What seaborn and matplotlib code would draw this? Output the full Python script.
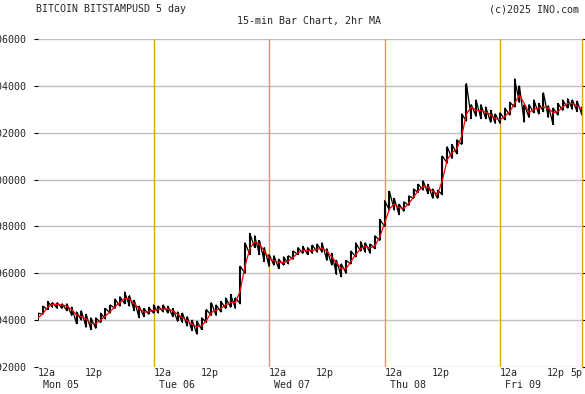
import numpy as np
import pandas as pd
import matplotlib
matplotlib.use('Agg')
import matplotlib.pyplot as plt
import matplotlib.transforms as mtransforms
import seaborn as sns

# hourly bars, hour 0 = Mon 05 12a, hour 113 = Fri 09 5p
close = [94100, 94450, 94650, 94700, 94650, 94650, 94550, 94350, 94100, 94200,
         93900, 93800, 93900, 94100, 94250, 94500, 94650, 94850, 95000, 94800,
         94600, 94400, 94300, 94400, 94450, 94450, 94500, 94450, 94350, 94150,
         94050, 93900, 93750, 93700, 93800, 94200, 94450, 94400, 94600, 94700,
         94800, 94700, 95800, 96800, 97300, 97400, 97100, 96800, 96500, 96550,
         96400, 96500, 96550, 96800, 96950, 97000, 96950, 97000, 97050, 97100,
         96800, 96600, 96300, 96100, 96300, 96700, 96900, 97200, 97100, 97050,
         97300, 97800, 98500, 99000, 98900, 98700, 98850, 99100, 99400, 99650,
         99750, 99600, 99400, 99350, 100600, 101100, 101200, 101400, 102300, 103300,
         102900, 103000, 102900, 102850, 102700, 102500, 102600, 102800, 103000, 103500,
         103700, 102800, 102900, 103100, 103000, 103200, 102900, 102800, 103000, 103200,
         103300, 103200, 103100, 102900]
low = [94000, 94250, 94450, 94550, 94500, 94500, 94400, 94200, 93850, 94000,
       93700, 93600, 93650, 93900, 94050, 94300, 94500, 94600, 94700, 94600,
       94400, 94100, 94150, 94250, 94300, 94300, 94350, 94300, 94150, 93950,
       93900, 93750, 93550, 93400, 93600, 93900, 94200, 94200, 94350, 94500,
       94550, 94500, 94700, 96000, 96800, 97100, 96800, 96500, 96300, 96350,
       96200, 96350, 96400, 96600, 96800, 96850, 96800, 96850, 96900, 96900,
       96550, 96350, 95950, 95850, 96000, 96400, 96700, 96950, 96900, 96850,
       97050, 97400, 98000, 98700, 98700, 98500, 98650, 98900, 99200, 99450,
       99550, 99400, 99200, 99200, 99350, 100700, 100900, 101100, 101500, 102500,
       102600, 102700, 102600, 102600, 102450, 102400, 102400, 102550, 102750, 103100,
       103300, 102450, 102650, 102850, 102800, 102900, 102650, 102350, 102750, 102950,
       103050, 103000, 102900, 102750]
high = [94300, 94600, 94800, 94750, 94750, 94700, 94700, 94550, 94350, 94400,
        94250, 94100, 94100, 94300, 94500, 94650, 94900, 95000, 95200, 95050,
        94850, 94600, 94500, 94550, 94650, 94600, 94650, 94600, 94500, 94350,
        94300, 94150, 94000, 93950, 94100, 94450, 94750, 94650, 94800, 94950,
        95100, 94950, 96300, 97300, 97700, 97600, 97400, 97100, 96800, 96750,
        96600, 96700, 96750, 96950, 97100, 97150, 97100, 97200, 97250, 97300,
        97050, 96850, 96550, 96400, 96550, 96950, 97300, 97350, 97300, 97250,
        97600, 98300, 99100, 99500, 99200, 98950, 99050, 99300, 99600, 99800,
        99950, 99800, 99600, 99550, 101000, 101400, 101500, 101700, 102800, 104100,
        103200, 103400, 103200, 103100, 102950, 102800, 102850, 103050, 103300, 104300,
        104000, 103200, 103200, 103400, 103250, 103700, 103150, 103050, 103250, 103400,
        103450, 103400, 103350, 103100]

day_labels = ['Mon 05', 'Tue 06', 'Wed 07', 'Thu 08', 'Fri 09']
y_ticks = [92000, 94000, 96000, 98000, 100000, 102000, 104000, 106000]

df = pd.DataFrame({'hour': np.arange(len(close)), 'close': close,
                   'low': low, 'high': high})
df['ma'] = df['close'].rolling(2, min_periods=1).mean()

# sawtooth path through the bars: low -> high, then on to the next low
zx = np.repeat(df['hour'].to_numpy(), 2)
zy = np.column_stack([df['low'], df['high']]).ravel()

sns.set_style('white')
plt.rcParams['font.family'] = ['DejaVu Sans Mono']
fs = 7.2

fig = plt.figure(figsize=(5.85, 3.94), dpi=100)
ax = fig.add_axes([38 / 585, 1 - 367 / 394, (582 - 38) / 585, (367 - 39) / 394])

# grid
for v in y_ticks:
    ax.axhline(v, color='#c0c0c0', lw=1, zorder=0)
for d in range(1, 5):
    ax.axvline(d * 24, color='#e6a117', lw=1, zorder=0)

# bars
ax.plot(zx, zy, color='black', lw=0.9, zorder=2)
ax.vlines(df['hour'], df['low'], df['high'], color='black', lw=1.5, zorder=2)
sns.lineplot(data=df, x='hour', y='ma', color='#ff0000', lw=0.9, ax=ax, zorder=3)

ax.set_xlim(0, 113)
ax.set_ylim(92000, 106000)
for s in ['top', 'bottom', 'left']:
    ax.spines[s].set_visible(False)
ax.spines['right'].set_color('#e6a117')
ax.spines['right'].set_linewidth(1)

ax.set_yticks(y_ticks)
ax.set_yticklabels([str(v) + ' ' for v in y_ticks], fontsize=fs)
ax.tick_params(axis='y', which='both', left=True, right=True, direction='out',
               length=3, width=0.8, color='black', pad=1)
ax.set_xticks([])
ax.set_xlabel('')
ax.set_ylabel('')

# x labels
tr = ax.get_xaxis_transform()
for i, lab in enumerate(day_labels):
    h0 = i * 24
    ax.text(h0, -0.018, '12a', transform=tr, fontsize=fs, ha='left', va='center')
    t = mtransforms.offset_copy(tr, fig=fig, x=5, y=0, units='dots')
    ax.text(h0, -0.055, lab, transform=t, fontsize=fs, ha='left', va='center')
    if h0 + 12 < 113:
        t2 = mtransforms.offset_copy(tr, fig=fig, x=-2, y=0, units='dots')
        ax.text(h0 + 12, -0.018, '12p', transform=t2, fontsize=fs, ha='center', va='center')
ax.text(113, -0.018, '5p', transform=tr, fontsize=fs, ha='right', va='center')

# titles
fig.text(36 / 585, 1 - 9 / 394, 'BITCOIN BITSTAMPUSD 5 day', fontsize=fs, va='center')
fig.text(237 / 585, 1 - 21 / 394, '15-min Bar Chart, 2hr MA', fontsize=fs, va='center')
fig.text(489 / 585, 1 - 9 / 394, '(c)2025 INO.com', fontsize=fs, va='center')

fig.savefig('out.png', dpi=100)
